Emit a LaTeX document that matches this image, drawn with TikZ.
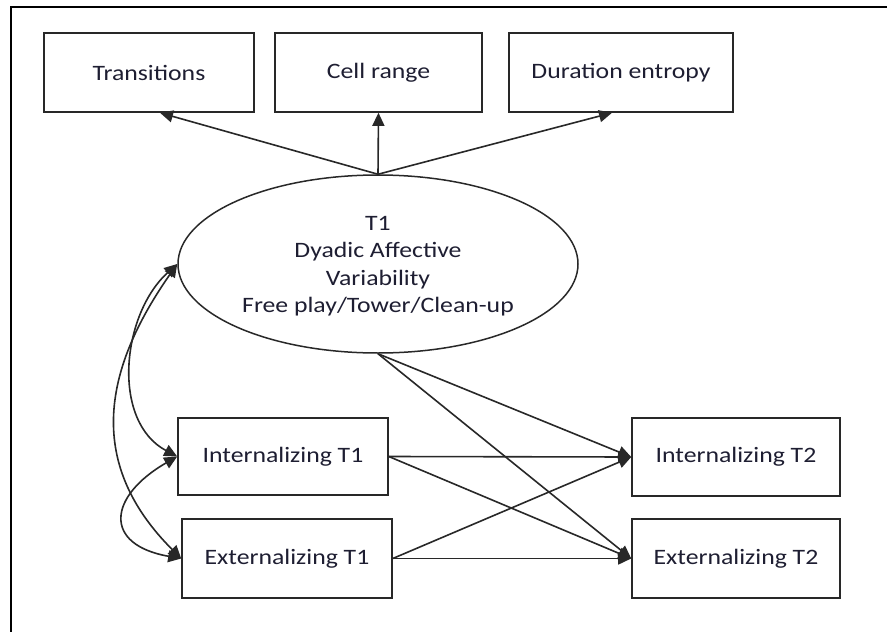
\documentclass[tikz,border=0pt]{standalone}
\usepackage{fontspec}
\setmainfont[FakeStretch=1.17]{Carlito}
\usetikzlibrary{arrows.meta,shapes.geometric}
\definecolor{linec}{RGB}{40,40,40}
\definecolor{textc}{RGB}{30,30,50}
\begin{document}
\begin{tikzpicture}[x=1pt,y=-1pt,
  every node/.style={font=\fontsize{22}{27.5}\selectfont, text=textc},
  box/.style={draw=linec, line width=1.6pt, rectangle, inner sep=0pt, minimum height=79pt},
  oval/.style={draw=linec, line width=1.5pt, ellipse, inner sep=0pt, align=center,
    minimum width=400pt, minimum height=178pt},
  conn/.style={draw=linec, line width=1.6pt, -{Triangle[length=13pt,width=12pt]}},
  dbl/.style={draw=linec, line width=1.6pt, {Triangle[length=13pt,width=12pt]}-{Triangle[length=13pt,width=12pt]}}
]
\useasboundingbox (0,0) rectangle (887,632);
\fill[white] (0,0) rectangle (887,632);
% frame (left and top edges only visible)
\draw[line width=2.2pt, black] (11,632) -- (11,7) -- (887,7);

% top indicator boxes
\node[box, minimum width=210pt] (trans) at (149,72.5) {Transitions};
\node[box, minimum width=207pt] (cell) at (378.5,72.5) {Cell range};
\node[box, minimum width=224pt] (dur) at (621,72.5) {Duration entropy};

% latent variable
\node[oval] (ell) at (378,264) {};
\node[align=center] (elltext) at (378,266) {T1\\Dyadic Affective\\Variability\\Free play/Tower/Clean-up};

% observed boxes
\node[box, minimum width=210pt, minimum height=77pt] (int1) at (283,456.5) {Internalizing T1};
\node[box, minimum width=210pt] (ext1) at (287,558.5) {Externalizing T1};
\node[box, minimum width=208pt, minimum height=78pt] (int2) at (736,457) {Internalizing T2};
\node[box, minimum width=208pt] (ext2) at (736,558.5) {Externalizing T2};

% loadings
\draw[conn] (ell.north) -- ([xshift=11pt]trans.south);
\draw[conn] (ell.north) -- (cell.south);
\draw[conn] (ell.north) -- ([xshift=-9pt]dur.south);

% paths
\draw[conn] (ell.south) -- (int2.west);
\draw[conn] (ell.south) -- (ext2.west);
\draw[conn] (int1.east) -- (int2.west);
\draw[conn] (int1.east) -- (ext2.west);
\draw[conn] (ext1.east) -- (int2.west);
\draw[conn] (ext1.east) -- (ext2.west);

% covariances
\draw[dbl] (ell.west) to[out=222, in=152] (int1.west);
\draw[dbl] (ell.west) to[out=235, in=135, looseness=1.15] (ext1.west);
\draw[dbl] (int1.west) to[out=210, in=170, looseness=2] (ext1.west);
\end{tikzpicture}
\end{document}
